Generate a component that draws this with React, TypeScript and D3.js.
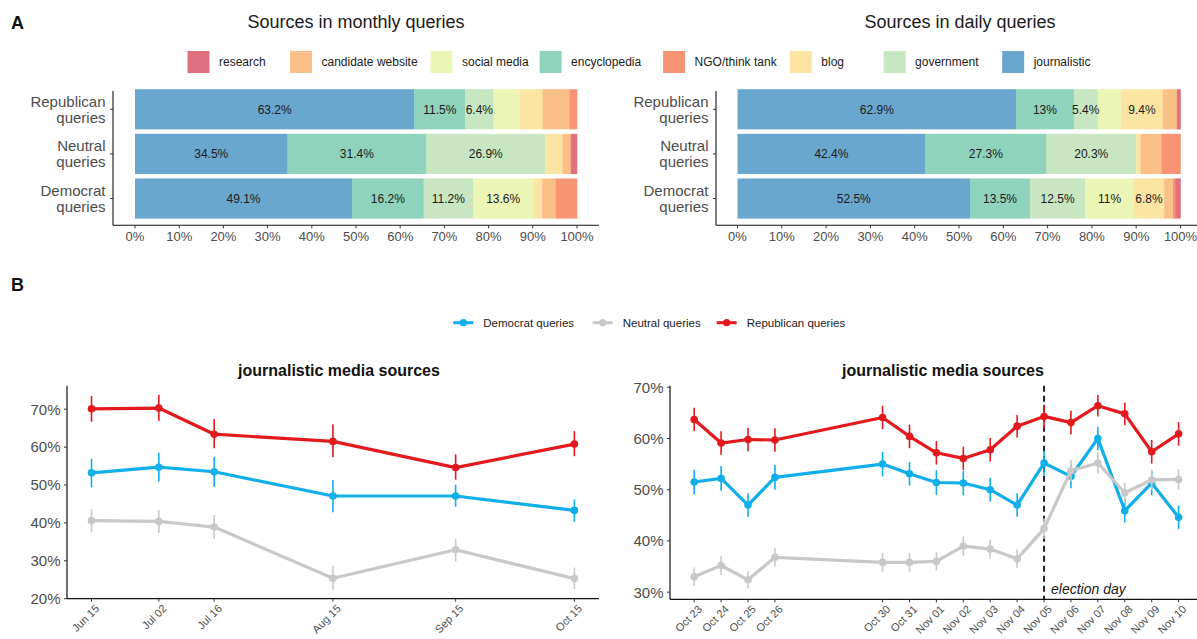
import React from "react";
import * as d3 from "d3";

const W = 1197;
const H = 639;
const FONT = "'Liberation Sans', Arial, Helvetica, sans-serif";

// ---------- Panel A data ----------
const rowLabels = ["Republican queries", "Neutral queries", "Democrat queries"];
const sources = ["journalistic", "encyclopedia", "government", "social media", "blog", "candidate website", "NGO/think tank", "research"];
const sourceColors = ["#6aa7cf", "#8fd3bd", "#c7e6c1", "#ebf5b5", "#fce5a3", "#fbbf88", "#f69473", "#e0707e"];
const legendOrder = ["research", "candidate website", "social media", "encyclopedia", "NGO/think tank", "blog", "government", "journalistic"];

const monthlyRepublican = [63.2, 11.5, 6.4, 5.9, 5.2, 6.1, 1.7, 0];
const monthlyNeutral = [34.5, 31.4, 26.9, 0, 3.9, 1.9, 0, 1.4];
const monthlyDemocrat = [49.1, 16.2, 11.2, 13.6, 2.0, 3.1, 4.8, 0];
const dailyRepublican = [62.9, 13, 5.4, 5.3, 9.4, 3.2, 0, 0.8];
const dailyNeutral = [42.4, 27.3, 20.3, 0, 1.0, 4.7, 4.3, 0];
const dailyDemocrat = [52.5, 13.5, 12.5, 11, 6.8, 2.0, 0.5, 1.2];
const monthlyLabelled = [["journalistic", "encyclopedia", "government"], ["journalistic", "encyclopedia", "government"], ["journalistic", "encyclopedia", "government", "social media"]];
const dailyLabelled = [["journalistic", "encyclopedia", "government", "blog"], ["journalistic", "encyclopedia", "government"], ["journalistic", "encyclopedia", "government", "social media", "blog"]];
const pctTicks = [0, 10, 20, 30, 40, 50, 60, 70, 80, 90, 100];

// ---------- Panel B data ----------
const seriesNames = ["Democrat queries", "Neutral queries", "Republican queries"];
const seriesColors = ["#10aeea", "#c8c8c8", "#e3191e"];

const monthlyDates = ["2018-06-15", "2018-07-02", "2018-07-16", "2018-08-15", "2018-09-15", "2018-10-15"];
const monthlyDem = [53.2, 54.7, 53.5, 47.1, 47.1, 43.3];
const monthlyDemLo = [49.4, 50.9, 49.5, 42.8, 44.3, 40.3];
const monthlyDemHi = [56.9, 58.5, 57.4, 51.3, 50.1, 46.2];
const monthlyNeu = [40.6, 40.4, 38.9, 25.4, 32.9, 25.3];
const monthlyNeuLo = [37.5, 37.4, 35.8, 22.3, 29.8, 22.5];
const monthlyNeuHi = [43.6, 43.4, 42.1, 28.6, 35.8, 28.2];
const monthlyRep = [70.1, 70.3, 63.4, 61.5, 54.6, 60.8];
const monthlyRepLo = [66.7, 66.9, 59.7, 57.3, 51.4, 57.6];
const monthlyRepHi = [73.5, 73.8, 67.4, 66.0, 58.1, 64.2];
const monthlyYTicks = [20, 30, 40, 50, 60, 70];

const dailyDates = ["2018-10-23", "2018-10-24", "2018-10-25", "2018-10-26", "2018-10-30", "2018-10-31", "2018-11-01", "2018-11-02", "2018-11-03", "2018-11-04", "2018-11-05", "2018-11-06", "2018-11-07", "2018-11-08", "2018-11-09", "2018-11-10"];
const dailyDem = [51.5, 52.2, 47.0, 52.4, 55.0, 53.1, 51.4, 51.3, 50.0, 47.0, 55.2, 52.6, 60.0, 45.9, 51.3, 44.6];
const dailyDemErr = [2.4, 2.4, 2.3, 2.4, 2.4, 2.3, 2.4, 2.4, 2.3, 2.3, 2.4, 2.3, 2.3, 2.3, 2.4, 2.3];
const dailyNeu = [33.0, 35.2, 32.4, 36.8, 35.8, 35.8, 36.0, 39.0, 38.4, 36.5, 42.4, 53.7, 55.2, 49.4, 51.9, 52.0];
const dailyNeuErr = [1.8, 1.8, 1.7, 1.8, 1.8, 1.8, 1.8, 1.9, 1.9, 1.8, 2.0, 2.1, 2.1, 2.0, 2.0, 2.0];
const dailyRep = [63.7, 59.1, 59.8, 59.7, 64.1, 60.4, 57.2, 56.1, 57.8, 62.4, 64.3, 63.1, 66.4, 64.8, 57.4, 60.9];
const dailyRepErr = [2.3, 2.3, 2.3, 2.3, 2.3, 2.3, 2.3, 2.3, 2.3, 2.2, 2.3, 2.3, 2.1, 2.2, 2.3, 2.3];
const dailyYTicks = [30, 40, 50, 60, 70];
const electionDay = "2018-11-05";

const parse = d3.timeParse("%Y-%m-%d");
const fmtDate = d3.timeFormat("%b %d");

type BarProps = {
  title: string;
  titleX: number;
  data: number[][];
  labelled: string[][];
  x0: number;
  x1: number;
  axisLeft: number;
  axisRight: number;
};

function StackedBars({ title, titleX, data, labelled, x0, x1, axisLeft, axisRight }: BarProps) {
  const x = d3.scaleLinear().domain([0, 100]).range([x0, x1]);
  const y = d3.scaleBand<string>().domain(rowLabels).range([82.5, 225.3]).paddingInner(0.1).paddingOuter(0.15);
  const axisY = 225.3;
  const stacks = data.map((vals) => {
    let acc = 0;
    return vals.map((v, i) => {
      const s = acc;
      acc += v;
      return { src: sources[i], start: s, end: acc, v };
    });
  });
  return (
    <g>
      <text x={titleX} y={28} textAnchor="middle" fontSize={18} fill="#1a1a1a">{title}</text>
      {stacks.map((segs, r) => (
        <g key={r}>
          {segs.filter((s) => s.v > 0).map((s) => (
            <rect key={s.src} x={x(s.start)} y={y(rowLabels[r])} width={x(s.end) - x(s.start) + 0.3} height={y.bandwidth()} fill={sourceColors[sources.indexOf(s.src)]} />
          ))}
          {segs.filter((s) => labelled[r].includes(s.src)).map((s) => (
            <text key={"t" + s.src} x={(x(s.start) + x(s.end)) / 2} y={(y(rowLabels[r]) as number) + y.bandwidth() / 2} dy="0.36em" textAnchor="middle" fontSize={12} fill="#1a1a1a">{`${s.v}%`}</text>
          ))}
        </g>
      ))}
      {/* y axis */}
      <line x1={axisLeft} x2={axisLeft} y1={91} y2={axisY} stroke="#111" strokeWidth={1.1} />
      {rowLabels.map((r) => {
        const cy = (y(r) as number) + y.bandwidth() / 2;
        const [a, b] = r.split(" ");
        return (
          <g key={r}>
            <line x1={axisLeft - 3} x2={axisLeft} y1={cy} y2={cy} stroke="#333" strokeWidth={1} />
            <text x={axisLeft - 7.5} y={cy - 8} dy="0.36em" textAnchor="end" fontSize={15} fill="#4d4d4d">{a}</text>
            <text x={axisLeft - 7.5} y={cy + 8} dy="0.36em" textAnchor="end" fontSize={15} fill="#4d4d4d">{b}</text>
          </g>
        );
      })}
      {/* x axis */}
      <line x1={axisLeft} x2={axisRight} y1={axisY} y2={axisY} stroke="#111" strokeWidth={1.1} />
      {pctTicks.map((t) => (
        <g key={t}>
          <line x1={x(t)} x2={x(t)} y1={axisY} y2={axisY + 3} stroke="#333" strokeWidth={1} />
          <text x={x(t)} y={axisY + 16} textAnchor="middle" fontSize={13} fill="#4d4d4d">{`${t}%`}</text>
        </g>
      ))}
    </g>
  );
}

type LineProps = {
  dates: string[];
  means: number[][];
  lows: number[][];
  highs: number[][];
  yDomain: [number, number];
  yTicks: number[];
  xLeft: number;
  xFirst: number;
  xLast: number;
  yBottom: number;
  yTop: number;
  xEnd: number;
  titleX: number;
  election?: string;
};

function LinePanel({ dates, means, lows, highs, yDomain, yTicks, xLeft, xFirst, xLast, yBottom, yTop, xEnd, titleX, election }: LineProps) {
  const ds = dates.map((d) => parse(d) as Date);
  const x = d3.scaleTime().domain([ds[0], ds[ds.length - 1]]).range([xFirst, xLast]);
  const y = d3.scaleLinear().domain(yDomain).range([yBottom, yTop]);
  const line = d3.line<number>().x((_, i) => x(ds[i])).y((v) => y(v));
  return (
    <g>
      <text x={titleX} y={375.5} textAnchor="middle" fontSize={16} fontWeight="bold" fill="#111">journalistic media sources</text>
      {election && (
        <g>
          <line x1={x(parse(election) as Date)} x2={x(parse(election) as Date)} y1={yTop} y2={yBottom} stroke="#222" strokeWidth={2} strokeDasharray="6,4" />
          <text x={x(parse(election) as Date) + 7} y={yBottom - 5.5} fontSize={14} fontStyle="italic" fill="#1a1a1a">election day</text>
        </g>
      )}
      {means.map((vals, s) => (
        <g key={s}>
          {vals.map((v, i) => (
            <line key={"e" + i} x1={x(ds[i])} x2={x(ds[i])} y1={y(lows[s][i])} y2={y(highs[s][i])} stroke={seriesColors[s]} strokeWidth={1.6} />
          ))}
          <path d={line(vals) as string} fill="none" stroke={seriesColors[s]} strokeWidth={3.2} strokeLinejoin="round" />
          {vals.map((v, i) => (
            <circle key={"p" + i} cx={x(ds[i])} cy={y(v)} r={3.8} fill={seriesColors[s]} />
          ))}
        </g>
      ))}
      {/* axes */}
      <line x1={xLeft} x2={xLeft} y1={yTop} y2={yBottom} stroke="#111" strokeWidth={1.2} />
      <line x1={xLeft} x2={xEnd} y1={yBottom} y2={yBottom} stroke="#111" strokeWidth={1.2} />
      {yTicks.map((t) => (
        <g key={t}>
          <line x1={xLeft - 3} x2={xLeft} y1={y(t)} y2={y(t)} stroke="#333" />
          <text x={xLeft - 6.5} y={y(t)} dy="0.36em" textAnchor="end" fontSize={15} fill="#4d4d4d">{`${t}%`}</text>
        </g>
      ))}
      {ds.map((d, i) => (
        <g key={i}>
          <line x1={x(d)} x2={x(d)} y1={yBottom} y2={yBottom + 3} stroke="#333" />
          <text transform={`translate(${x(d) + 3},${yBottom + 5}) rotate(-45)`} dy="0.71em" textAnchor="end" fontSize={11} fill="#4d4d4d">{fmtDate(d)}</text>
        </g>
      ))}
    </g>
  );
}

export default function App() {
  const legendAX = [187.5, 290, 430.5, 539.6, 663.1, 789.8, 883.6, 1002.2];
  const legendBX = [453.3, 592.7, 716.7];
  return (
    <svg width={W} height={H} viewBox={`0 0 ${W} ${H}`} style={{ position: "absolute", left: 0, top: 0, display: "block", background: "#fff" }} fontFamily={FONT}>
      <rect width={W} height={H} fill="#fff" />
      <text x={11} y={29} fontSize={18} fontWeight="bold" fill="#111">A</text>
      <text x={11} y={291} fontSize={18} fontWeight="bold" fill="#111">B</text>

      {/* legend A */}
      {legendOrder.map((name, i) => (
        <g key={name}>
          <rect x={legendAX[i]} y={51} width={22} height={22} fill={sourceColors[sources.indexOf(name)]} />
          <text x={legendAX[i] + 31.5} y={62} dy="0.36em" fontSize={12} fill="#1a1a1a">{name}</text>
        </g>
      ))}

      <StackedBars title="Sources in monthly queries" titleX={356} data={[monthlyRepublican, monthlyNeutral, monthlyDemocrat]} labelled={monthlyLabelled} x0={135} x1={577} axisLeft={113} axisRight={599} />
      <StackedBars title="Sources in daily queries" titleX={960} data={[dailyRepublican, dailyNeutral, dailyDemocrat]} labelled={dailyLabelled} x0={737.5} x1={1180.5} axisLeft={716} axisRight={1203} />

      {/* legend B */}
      {seriesNames.map((name, i) => (
        <g key={name}>
          <line x1={legendBX[i]} x2={legendBX[i] + 20} y1={322.7} y2={322.7} stroke={seriesColors[i]} strokeWidth={3} />
          <circle cx={legendBX[i] + 10} cy={322.7} r={3.6} fill={seriesColors[i]} />
          <text x={legendBX[i] + 30} y={322.7} dy="0.36em" fontSize={11.5} fill="#1a1a1a">{name}</text>
        </g>
      ))}

      <LinePanel
        dates={monthlyDates}
        means={[monthlyDem, monthlyNeu, monthlyRep]}
        lows={[monthlyDemLo, monthlyNeuLo, monthlyRepLo]}
        highs={[monthlyDemHi, monthlyNeuHi, monthlyRepHi]}
        yDomain={[20, 76.2]}
        yTicks={monthlyYTicks}
        xLeft={67}
        xFirst={91.5}
        xLast={574.4}
        yBottom={598.7}
        yTop={385.7}
        xEnd={599}
        titleX={339}
      />
      <LinePanel
        dates={dailyDates}
        means={[dailyDem, dailyNeu, dailyRep]}
        lows={[dailyDem.map((v, i) => v - dailyDemErr[i]), dailyNeu.map((v, i) => v - dailyNeuErr[i]), dailyRep.map((v, i) => v - dailyRepErr[i])]}
        highs={[dailyDem.map((v, i) => v + dailyDemErr[i]), dailyNeu.map((v, i) => v + dailyNeuErr[i]), dailyRep.map((v, i) => v + dailyRepErr[i])]}
        yDomain={[28.6, 70.3]}
        yTicks={dailyYTicks}
        xLeft={670}
        xFirst={694.2}
        xLast={1178.6}
        yBottom={599.3}
        yTop={385.7}
        xEnd={1203}
        titleX={943}
        election={electionDay}
      />
    </svg>
  );
}
